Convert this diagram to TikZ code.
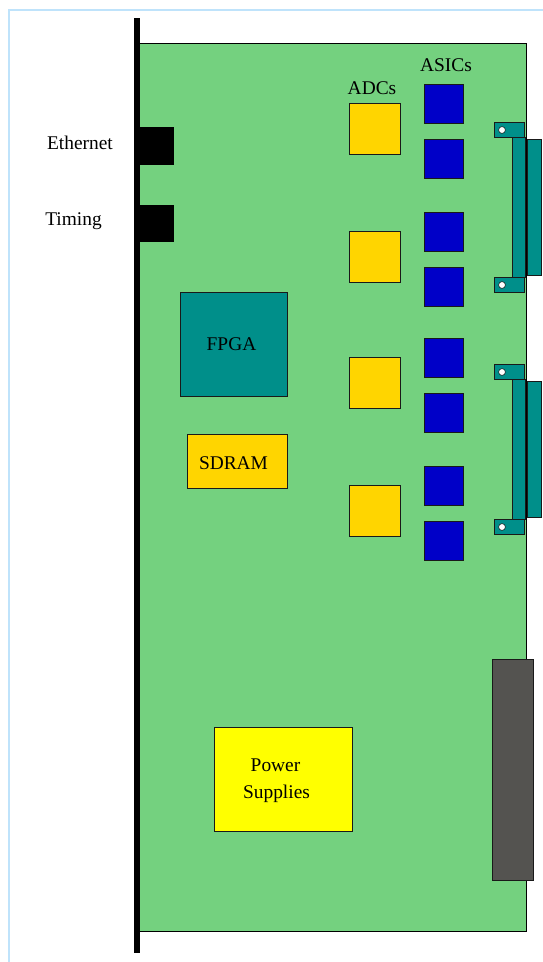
\documentclass[tikz,border=0pt]{standalone}
\usepackage{fontspec}
\setmainfont{Liberation Serif}
\definecolor{boardgreen}{HTML}{74D17F}
\definecolor{tealc}{HTML}{008F8A}
\definecolor{amber}{HTML}{FFD500}
\definecolor{asicblue}{HTML}{0000C8}
\definecolor{greyc}{HTML}{545350}
\definecolor{framec}{HTML}{BFE3FB}
\definecolor{psuyellow}{HTML}{FFFF00}
\tikzset{
 x=1pt,y=-1pt,
 part/.style={draw=black!90,line width=0.8pt},
 lbl/.style={font=\fontsize{19.4}{22}\selectfont,text=black,inner sep=0pt,anchor=base},
 adc/.style={part,fill=amber},
 asic/.style={part,fill=asicblue},
 tealpart/.style={part,fill=tealc},
 hole/.style={draw=black,line width=0.5pt,fill=white},
}
\begin{document}
\begin{tikzpicture}
\useasboundingbox (0,0) rectangle (543,962);
\fill[white] (0,0) rectangle (543,962);
\draw[framec,line width=1.8pt] (9,962) -- (9,9.6) -- (543,9.6);
% board
\draw[fill=boardgreen,draw=black,line width=0.8pt] (137,43) rectangle (526.5,931);
% panel
\fill[black] (134,18) rectangle (140,953);
% front connectors
\fill[black] (137,127) rectangle (174,164.5);
\fill[black] (137,205) rectangle (174,242);
% main chips
\path[tealpart] (180.5,292.5) rectangle (287,396);
\path[adc] (187.5,434.5) rectangle (287,488);
\path[part,fill=psuyellow] (214.5,727.5) rectangle (352,831);
\path[part,fill=greyc,line width=1pt] (492.5,659.5) rectangle (533.5,880);
% ADCs
\foreach \y in {103.5,231.5,357.5,485.5}
  \path[adc] (349.5,\y) rectangle +(51,51);
% ASICs
\foreach \y in {84,139.5,212,267.5,338,393.5,466,521.5}
  \path[asic] (424.5,\y) rectangle +(39,39);
% rear connectors
\foreach \d in {0,242}{
  \begin{scope}[yshift=-\d pt]
  \path[tealpart] (527,139.5) rectangle (541.5,275);
  \path[tealpart] (512,137) rectangle (525,277);
  \path[tealpart] (494.5,122.5) rectangle (524.5,137);
  \path[tealpart] (494.5,277.5) rectangle (524.5,292);
  \path[hole] (502,130) circle (3.4);
  \path[hole] (502,285) circle (3.4);
  \end{scope}
}
% labels
\node[lbl] (ethernet) at (80,149.5) {Ethernet};
\node[lbl] (timing) at (73.5,225) {Timing};
\node[lbl] (adcs) at (372,94) {ADCs};
\node[lbl] (asics) at (446,71.5) {ASICs};
\node[lbl] (fpga) at (231.5,350) {FPGA};
\node[lbl] (sdram) at (233.5,469) {SDRAM};
\node[lbl] (power) at (275.5,771) {Power};
\node[lbl] (supplies) at (276.5,798) {Supplies};
\end{tikzpicture}
\end{document}
